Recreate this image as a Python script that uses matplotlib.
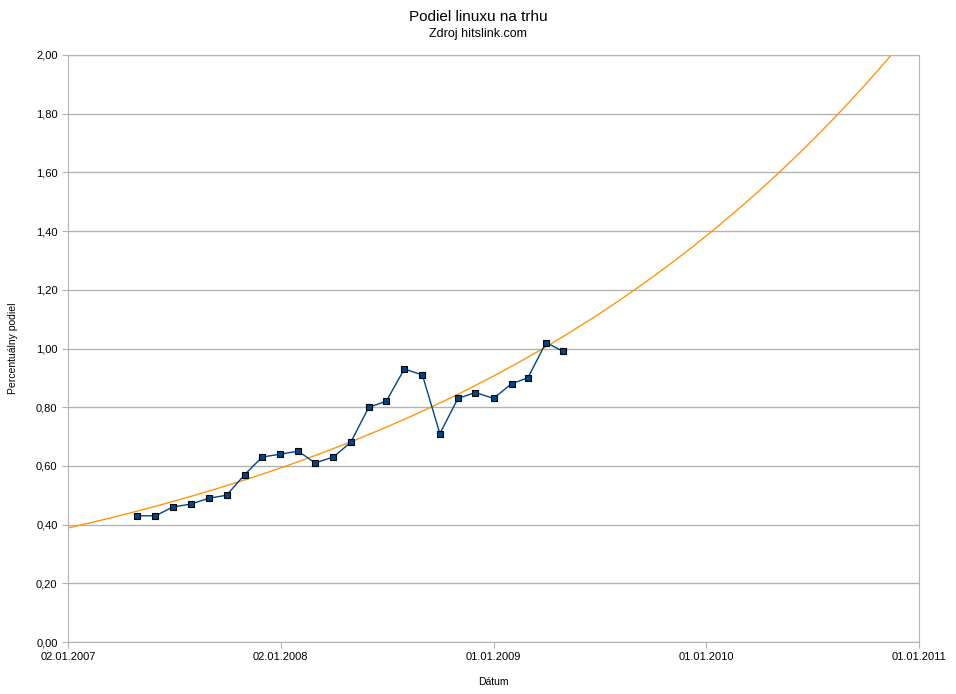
import numpy as np
import pandas as pd
import matplotlib
matplotlib.use("Agg")
import matplotlib.pyplot as plt
import matplotlib.dates as mdates
from matplotlib.ticker import FuncFormatter

plt.rcParams['font.family'] = ['Liberation Sans', 'DejaVu Sans']

# monthly linux market share (hitslink.com), May 2007 - May 2009
dates = pd.date_range("2007-05-01", "2009-05-01", freq="MS")
share = [0.43, 0.43, 0.46, 0.47, 0.49, 0.50, 0.57, 0.63, 0.64, 0.65,
         0.61, 0.63, 0.68, 0.80, 0.82, 0.93, 0.91, 0.71, 0.83, 0.85,
         0.83, 0.88, 0.90, 1.02, 0.99]

x_start = pd.Timestamp("2007-01-02")
x_end = pd.Timestamp("2011-01-01")
tick_dates = ["2007-01-02", "2008-01-02", "2009-01-01", "2010-01-01", "2011-01-01"]

# exponential trend line fitted to the data
t = mdates.date2num(dates)
b, a = np.polyfit(t, np.log(share), 1)
t_trend = np.linspace(mdates.date2num(x_start), mdates.date2num(x_end), 400)
y_trend = np.exp(a + b * t_trend)

fig = plt.figure(figsize=(9.56, 6.94), dpi=100)
ax = fig.add_axes([68 / 956, 52 / 694, 851 / 956, 587 / 694])

grid_c = '#b3b3b3'
ax.plot(mdates.num2date(t_trend), y_trend, color='#ff950e', lw=1, zorder=2)
ax.plot(dates, share, color='#004586', lw=1, marker='s', markersize=4.5,
        markerfacecolor='#004586', markeredgecolor='black', markeredgewidth=0.8, zorder=3)

ax.set_xlim(x_start, x_end)
ax.set_ylim(0, 2.0)
ax.set_yticks(np.arange(0, 2.01, 0.2))
ax.yaxis.set_major_formatter(FuncFormatter(lambda v, p: f"{v:.2f}".replace('.', ',')))
ax.set_xticks([pd.Timestamp(d) for d in tick_dates])
ax.set_xticklabels([pd.Timestamp(d).strftime("%d.%m.%Y") for d in tick_dates])
ax.grid(axis='y', color=grid_c, lw=1)
ax.set_axisbelow(True)
for s in ax.spines.values():
    s.set_color(grid_c)
ax.tick_params(colors=grid_c, labelcolor='black', labelsize=8, length=4)

ax.set_xlabel("Dátum", fontsize=7.5, va='center')
ax.xaxis.set_label_coords(0.5, -40 / 587)
ax.set_ylabel("Percentuálny podiel", fontsize=7.5, va='center')
ax.yaxis.set_label_coords(-55 / 851, 0.5)

fig.text(0.5, 1 - 17 / 694, "Podiel linuxu na trhu", ha='center', va='center', fontsize=11)
fig.text(0.5, 1 - 34 / 694, "Zdroj hitslink.com", ha='center', va='center', fontsize=9)

fig.savefig("out.png", dpi=100)
